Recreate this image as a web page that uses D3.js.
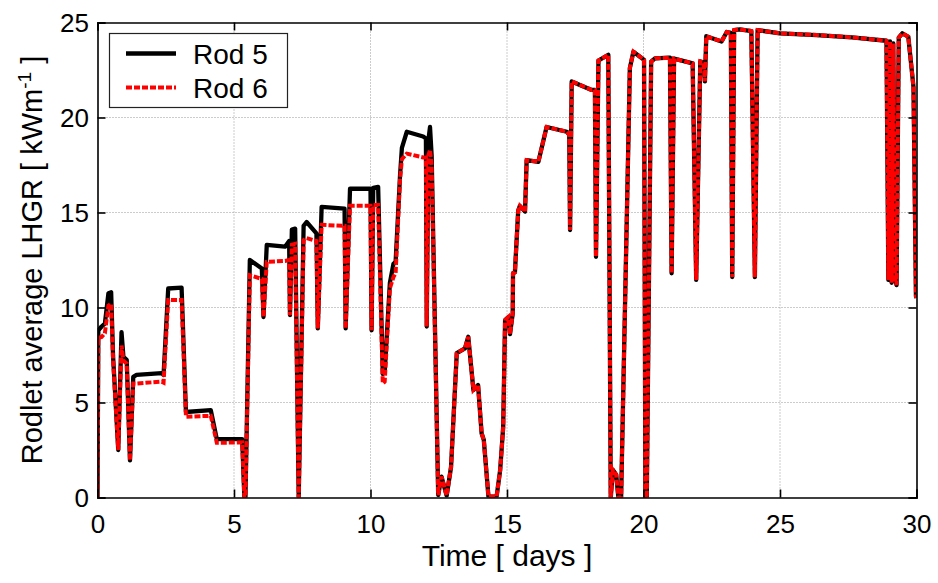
<!DOCTYPE html>
<html>
<head>
<meta charset="utf-8">
<script src="https://cdn.jsdelivr.net/npm/d3@7/dist/d3.min.js"></script>
<style>
  html, body { margin: 0; padding: 0; background: #fff; }
  svg { display: block; }
  text { font-family: "Liberation Sans", Arial, Helvetica, sans-serif; fill: #000; }
</style>
</head>
<body>
<svg id="chart" width="938" height="583"></svg>
<script>
// Irradiation time in days (shared by both rodlets)
const days = [
  0.00, 0.03, 0.15, 0.27, 0.40, 0.50, 0.57, 0.76, 0.88, 0.95,
  1.07, 1.19, 1.31, 1.43, 2.35, 2.42, 2.59, 3.08, 3.24, 4.15,
  4.37, 5.30, 5.38, 5.42, 5.58, 6.02, 6.08, 6.20, 6.87, 7.02,
  7.05, 7.12, 7.24, 7.37, 7.55, 7.66, 8.02, 8.07, 8.21, 9.05,
  9.09, 9.25, 10.00, 10.04, 10.10, 10.28, 10.45, 10.52, 10.71, 10.84,
  10.92, 11.08, 11.15, 11.33, 11.93, 12.03, 12.06, 12.12, 12.18, 12.24,
  12.48, 12.60, 12.79, 12.95, 13.16, 13.46, 13.58, 13.77, 13.94, 14.07,
  14.15, 14.32, 14.62, 14.75, 14.86, 14.93, 15.05, 15.11, 15.21, 15.22,
  15.29, 15.41, 15.47, 15.66, 15.72, 16.15, 16.45, 17.19, 17.28, 17.31,
  17.37, 18.10, 18.22, 18.26, 18.35, 18.71, 18.80, 18.88, 19.00, 19.08,
  19.18, 19.50, 19.63, 19.87, 20.02, 20.07, 20.12, 20.28, 20.42, 20.97,
  21.03, 21.12, 21.80, 21.93, 22.08, 22.20, 22.25, 22.30, 22.86, 23.05,
  23.20, 23.25, 23.32, 23.53, 23.95, 24.08, 24.18, 25.00, 26.34, 27.63,
  28.90, 28.97, 29.03, 29.09, 29.15, 29.21, 29.27, 29.35, 29.48, 29.70,
  29.89, 29.98, 30.00
];

// Rod 5 rodlet average LHGR [kW/m]
const rod5 = [
  0, 8.8, 9.0, 9.15, 10.75, 10.8, 7.45, 2.5, 8.7, 7.4,
  7.25, 1.95, 6.35, 6.45, 6.55, 6.45, 11.0, 11.05, 4.5, 4.6,
  3.07, 3.07, 0, 0, 12.5, 12.05, 9.5, 13.3, 13.2, 13.5,
  9.6, 14.1, 14.15, 0, 14.3, 14.5, 13.9, 8.9, 15.3, 15.2,
  8.9, 16.25, 16.25, 8.8, 16.3, 16.35, 6.5, 6.6, 11.3, 12.3,
  12.4, 16.9, 18.4, 19.25, 19.0, 18.9, 9.0, 18.8, 19.5, 18.0,
  0.13, 1.1, 0.1, 1.6, 7.6, 7.85, 8.46, 5.66, 5.92, 3.38,
  3.03, 0.05, 0.05, 1.45, 3.7, 9.34, 9.5, 8.6, 9.7, 11.8,
  11.85, 15.1, 15.35, 15.05, 17.76, 17.67, 19.5, 19.25, 19.1, 14.08,
  21.9, 21.45, 21.45, 12.67, 23.0, 23.3, 0, 1.45, 1.2, 0,
  0, 22.6, 23.46, 23.2, 23.03, 0, 0, 22.94, 23.11, 23.15,
  11.8, 23.1, 22.85, 11.45, 22.95, 22.9, 21.9, 24.28, 24.0, 24.5,
  24.45, 11.6, 24.6, 24.64, 24.55, 11.6, 24.6, 24.43, 24.34, 24.22,
  24.04, 11.45, 24.0, 11.3, 23.9, 11.6, 11.18, 24.2, 24.43, 24.25,
  21.6, 10.6, 10.5
];

// Rod 6 rodlet average LHGR [kW/m]
const rod6 = [
  0, 8.4, 8.45, 8.65, 10.1, 10.2, 7.25, 2.5, 8.0, 7.2,
  7.05, 1.95, 6.0, 6.0, 6.1, 6.05, 10.4, 10.4, 4.25, 4.3,
  2.88, 2.9, 0, 0, 11.7, 11.5, 9.5, 12.4, 12.45, 12.5,
  9.6, 13.3, 13.35, 0, 13.55, 13.65, 13.5, 8.9, 14.35, 14.3,
  8.9, 15.35, 15.35, 8.8, 15.4, 15.4, 6.0, 6.1, 11.0, 11.6,
  11.8, 16.7, 17.8, 18.1, 17.9, 17.9, 9.0, 18.0, 18.3, 17.5,
  0.13, 1.1, 0.1, 1.6, 7.6, 7.85, 8.46, 5.66, 5.92, 3.38,
  3.03, 0.05, 0.05, 1.45, 3.7, 9.34, 9.5, 8.6, 9.7, 11.8,
  11.85, 15.1, 15.35, 15.05, 17.76, 17.67, 19.5, 19.25, 19.1, 14.08,
  21.9, 21.45, 21.45, 12.67, 23.0, 23.3, 0, 1.45, 1.2, 0,
  0, 22.6, 23.46, 23.2, 23.03, 0, 0, 22.94, 23.11, 23.15,
  11.8, 23.1, 22.85, 11.45, 22.95, 22.9, 21.9, 24.28, 24.0, 24.5,
  24.45, 11.6, 24.6, 24.64, 24.55, 11.6, 24.6, 24.43, 24.34, 24.22,
  24.04, 11.45, 24.0, 11.3, 23.9, 11.6, 11.18, 24.2, 24.43, 24.25,
  21.6, 10.6, 10.5
];

const xTicks = [0, 5, 10, 15, 20, 25, 30];
const yTicks = [0, 5, 10, 15, 20, 25];
const seriesNames = ["Rod 5", "Rod 6"];

// Plot geometry
const plotLeft = 97.5, plotRight = 916.5, plotTop = 22.5, plotBottom = 497.5;

const svg = d3.select("#chart");
const x = d3.scaleLinear().domain([0, 30]).range([plotLeft, plotRight]);
const y = d3.scaleLinear().domain([0, 25]).range([plotBottom, plotTop]);

// Dotted grid
const grid = svg.append("g").attr("class", "grid")
  .attr("stroke", "#999").attr("stroke-width", 1)
  .attr("stroke-dasharray", "1,2");
grid.selectAll("line.gx").data(xTicks.slice(1, -1)).join("line")
  .attr("class", "gx")
  .attr("x1", d => x(d)).attr("x2", d => x(d))
  .attr("y1", plotTop).attr("y2", plotBottom);
grid.selectAll("line.gy").data(yTicks.slice(1, -1)).join("line")
  .attr("class", "gy")
  .attr("x1", plotLeft).attr("x2", plotRight)
  .attr("y1", d => y(d)).attr("y2", d => y(d));

// Clip data lines to the axes box
svg.append("clipPath").attr("id", "plotClip")
  .append("rect").attr("x", plotLeft).attr("y", plotTop)
  .attr("width", plotRight - plotLeft).attr("height", plotBottom - plotTop);

const rows = days.map((t, i) => ({ t, r5: rod5[i], r6: rod6[i] }));
const line5 = d3.line().x(d => x(d.t)).y(d => y(d.r5));
const line6 = d3.line().x(d => x(d.t)).y(d => y(d.r6));

const plot = svg.append("g").attr("clip-path", "url(#plotClip)");
plot.append("path").datum(rows).attr("d", line5)
  .attr("fill", "none").attr("stroke", "#000")
  .attr("stroke-width", 4.3).attr("stroke-linejoin", "round");
plot.append("path").datum(rows).attr("d", line6)
  .attr("fill", "none").attr("stroke", "#ff0000")
  .attr("stroke-width", 4).attr("stroke-dasharray", "6,2")
  .attr("stroke-linejoin", "miter");

// Axes with inward ticks on all four sides
const tickLen = 8;
const axB = svg.append("g").attr("transform", `translate(0,${plotBottom})`)
  .call(d3.axisBottom(x).tickValues(xTicks).tickSize(-tickLen).tickPadding(16).tickFormat(d3.format("d")));
const axT = svg.append("g").attr("transform", `translate(0,${plotTop})`)
  .call(d3.axisTop(x).tickValues(xTicks).tickSize(-tickLen).tickFormat(""));
const axL = svg.append("g").attr("transform", `translate(${plotLeft},0)`)
  .call(d3.axisLeft(y).tickValues(yTicks).tickSize(-tickLen).tickPadding(8).tickFormat(d3.format("d")));
const axR = svg.append("g").attr("transform", `translate(${plotRight},0)`)
  .call(d3.axisRight(y).tickValues(yTicks).tickSize(-tickLen).tickFormat(""));

[axB, axT, axL, axR].forEach(a => {
  a.select(".domain").attr("stroke", "#000").attr("stroke-width", 1.6);
  a.selectAll(".tick line").attr("stroke", "#000").attr("stroke-width", 1.6);
  a.selectAll(".tick text").attr("font-size", 26)
    .attr("font-family", "'Liberation Sans', Arial, sans-serif").attr("fill", "#000");
});
axB.selectAll(".tick text").attr("dy", null).attr("y", 35);
axL.selectAll(".tick text").attr("dy", "0.36em").attr("x", -8.5);

// Axis titles
svg.append("text")
  .attr("x", (plotLeft + plotRight) / 2).attr("y", 566)
  .attr("text-anchor", "middle").attr("font-size", 30)
  .text("Time [ days ]");

const yTitle = svg.append("text")
  .attr("transform", `translate(42,${(plotTop + plotBottom) / 2}) rotate(-90)`)
  .attr("text-anchor", "middle").attr("font-size", 29);
yTitle.append("tspan").text("Rodlet average LHGR [ kWm");
yTitle.append("tspan").attr("font-size", 19).attr("dy", -11).text("-1");
yTitle.append("tspan").attr("dy", 11).text(" ]");

// Legend
const legend = svg.append("g");
legend.append("rect")
  .attr("x", 109.5).attr("y", 33.5).attr("width", 178).attr("height", 74)
  .attr("fill", "#fff").attr("stroke", "#222").attr("stroke-width", 1.2);
const legendStyles = [
  { stroke: "#000", width: 4.3, dash: null, y: 53.5 },
  { stroke: "#ff0000", width: 4, dash: "6,2", y: 87.5 }
];
seriesNames.forEach((name, i) => {
  const s = legendStyles[i];
  legend.append("line")
    .attr("x1", 126).attr("x2", 176).attr("y1", s.y).attr("y2", s.y)
    .attr("stroke", s.stroke).attr("stroke-width", s.width)
    .attr("stroke-dasharray", s.dash);
  legend.append("text")
    .attr("x", 193).attr("y", s.y + 10).attr("font-size", 28)
    .text(name);
});
</script>
</body>
</html>
